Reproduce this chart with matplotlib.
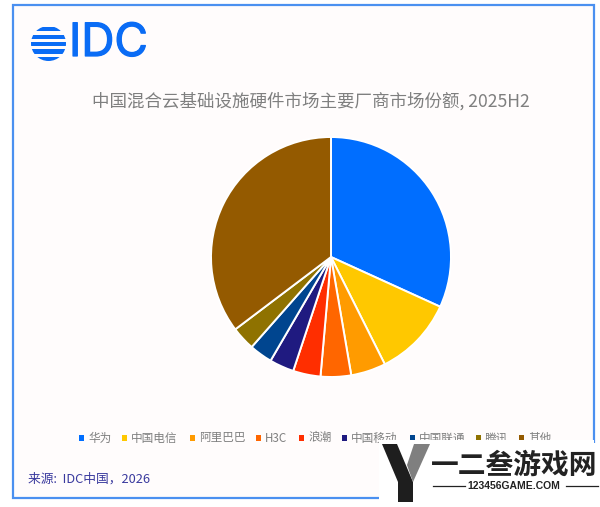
import matplotlib
matplotlib.use("Agg")
import matplotlib.pyplot as plt
import matplotlib.patheffects as pe
from matplotlib.patches import Rectangle, Polygon, Circle

plt.rcParams['font.family'] = ['Noto Sans CJK SC', 'DejaVu Sans']

# shares, clockwise from the top
vendors = ["华为", "中国电信", "阿里巴巴", "H3C", "浪潮", "中国移动", "中国联通", "腾讯", "其他"]
shares = [31.8, 10.8, 4.7, 4.1, 3.7, 3.3, 3.1, 3.2, 35.3]
colors = ["#006EFF", "#FFC800", "#FF9B00", "#FF6600", "#FF2E00",
          "#1F1A80", "#00458F", "#8F7200", "#945A00"]
legend_x = [79, 122, 190, 256, 299, 342, 410, 476, 519]

title = "中国混合云基础设施硬件市场主要厂商市场份额, 2025H2"
source = "来源:  IDC中国，2026"

W, H = 600, 507
fig = plt.figure(figsize=(W / 100, H / 100), dpi=100, facecolor="white")

# full figure axes in pixel coordinates for everything but the pie
ax = fig.add_axes([0, 0, 1, 1])
ax.set_xlim(0, W)
ax.set_ylim(H, 0)
ax.axis("off")

# frame
ax.add_patch(Rectangle((13, 5), 581, 493, facecolor="#FFFCFC", edgecolor="#4A90F0", lw=1.6, zorder=1))

# logo: striped globe plus IDC
clip = Circle((48.5, 43.5), 17.5, transform=ax.transData)
for y, h in [(26.5, 4), (34.5, 4.5), (41.5, 4), (49, 4.5), (56.5, 4)]:
    bar = Rectangle((30, y), 38, h, facecolor="#0A6CF5", edgecolor="none", zorder=3)
    ax.add_patch(bar)
    bar.set_clip_path(clip)
ax.text(69, 44, "IDC", fontsize=33, color="#0A6CF5", family="Inter", ha="left", va="center", zorder=3,
        path_effects=[pe.withStroke(linewidth=0.9, foreground="#0A6CF5")])

ax.text(311, 101, title, fontsize=12.6, color="#7F7F7F", ha="center", va="center", zorder=3)

# legend, hand placed since the bottom is cut by the watermark
for name, c, x in zip(vendors, colors, legend_x):
    ax.add_patch(Rectangle((x, 435), 5, 6, facecolor=c, edgecolor="none", zorder=3))
    ax.text(x + 9, 438, name, fontsize=8.4, color="#7F7F7F", ha="left", va="center", zorder=3)

ax.text(28, 479, source, fontsize=9.2, color="#3A3A9E", ha="left", va="center", zorder=3)

# watermark sits on top of the chart
ax.add_patch(Rectangle((379, 440), 215, 67, facecolor="white", edgecolor="none", zorder=5))
ax.add_patch(Rectangle((594, 443), 6, 64, facecolor="white", edgecolor="none", zorder=5))
ax.add_patch(Polygon([(382, 444), (397, 444), (413, 482), (413, 502), (398, 502), (398, 482)],
                     facecolor="#1E1E1E", edgecolor="none", zorder=6))
ax.add_patch(Polygon([(414, 444), (430, 444), (413, 482), (407, 465)],
                     facecolor="#7F7F7F", edgecolor="none", zorder=6))
ax.text(514, 466, "一二叁游戏网", fontsize=20, color="#222222", fontweight="bold", style="italic",
        ha="center", va="center", zorder=6)
ax.text(514, 486, "123456GAME.COM", fontsize=7.5, color="#222222", fontweight="bold", family="Liberation Sans",
        ha="center", va="center", zorder=6)
ax.plot([433, 465], [486, 486], color="#222222", lw=0.9, zorder=6)
ax.plot([566, 598], [486, 486], color="#222222", lw=0.9, zorder=6)

# pie, center (331, 257) radius 120 px
pie_ax = fig.add_axes([211 / W, 1 - 377 / H, 240 / W, 240 / H])
pie_ax.pie(shares, colors=colors, startangle=90, counterclock=False, radius=1,
           wedgeprops={"edgecolor": "white", "linewidth": 1.4})
pie_ax.set_xlim(-1, 1)
pie_ax.set_ylim(-1, 1)

fig.savefig("out.png", dpi=100)
